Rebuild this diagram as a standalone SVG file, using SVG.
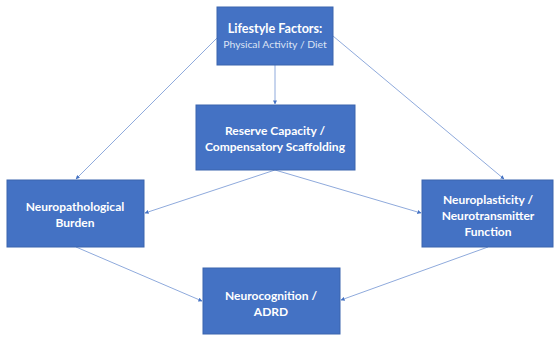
<svg xmlns="http://www.w3.org/2000/svg" width="555" height="338" viewBox="0 0 555 338">
<defs>
<style>
.box{fill:#4472C4;stroke:#3A64AE;stroke-width:1}
.t{font-family:Lato,"Liberation Sans",sans-serif;font-size:12px;font-weight:bold;fill:#FFFFFF;text-anchor:middle}
.s{font-family:Lato,"Liberation Sans",sans-serif;font-size:10.4px;fill:#DCE4F4;text-anchor:middle}
.c{stroke:#8FAADC;stroke-width:1;fill:none;marker-end:url(#a)}
</style>
<marker id="a" viewBox="0 0 10 10" refX="9" refY="5" markerWidth="4" markerHeight="4" orient="auto" markerUnits="userSpaceOnUse">
<path d="M0,0 L10,5 L0,10 z" fill="#4472C4"/>
</marker>
</defs>
<rect width="555" height="338" fill="#FFFFFF"/>
<g id="connectors">
<line class="c" x1="217" y1="38" x2="76" y2="179"/>
<line class="c" x1="275" y1="65" x2="275" y2="104"/>
<line class="c" x1="333" y1="36" x2="504" y2="179"/>
<line class="c" x1="275" y1="170" x2="145" y2="213"/>
<line class="c" x1="275" y1="170" x2="421" y2="213"/>
<line class="c" x1="76" y1="247" x2="202" y2="301"/>
<line class="c" x1="488" y1="247" x2="341" y2="300"/>
</g>
<g id="lifestyle">
<rect class="box" x="217" y="7" width="116" height="58"/>
<text class="t" x="275" y="33" style="font-size:12.6px">Lifestyle Factors:</text>
<text class="s" x="275" y="48">Physical Activity / Diet</text>
</g>
<g id="reserve">
<rect class="box" x="196" y="105" width="159" height="65"/>
<text class="t" x="275" y="135">Reserve Capacity /</text>
<text class="t" x="275" y="151">Compensatory Scaffolding</text>
</g>
<g id="neuropath">
<rect class="box" x="7" y="180" width="137" height="67"/>
<text class="t" x="75" y="211">Neuropathological</text>
<text class="t" x="75" y="227">Burden</text>
</g>
<g id="neuroplasticity">
<rect class="box" x="422" y="180" width="131" height="67"/>
<text class="t" x="488" y="204">Neuroplasticity /</text>
<text class="t" x="488" y="220">Neurotransmitter</text>
<text class="t" x="488" y="236">Function</text>
</g>
<g id="neurocognition">
<rect class="box" x="203" y="268" width="137" height="66"/>
<text class="t" x="271" y="300">Neurocognition /</text>
<text class="t" x="271" y="316">ADRD</text>
</g>
</svg>
